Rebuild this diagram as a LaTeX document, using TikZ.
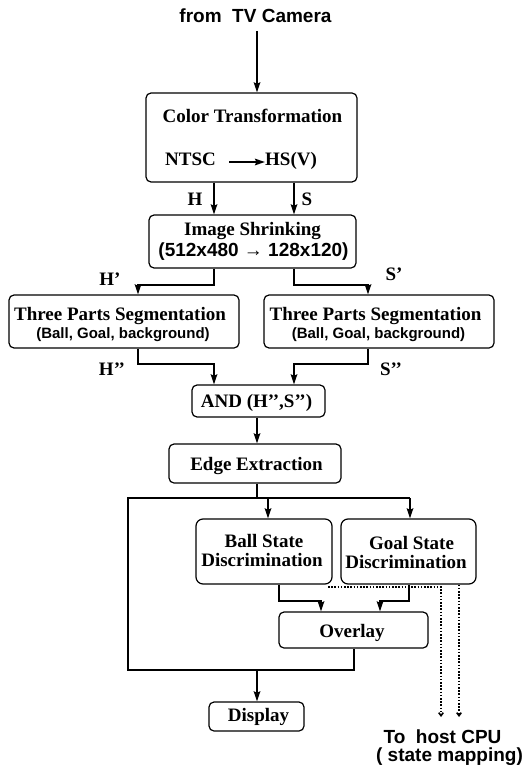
\documentclass[tikz,border=0pt]{standalone}
\usepackage{fontspec}
\setmainfont{Liberation Serif}
\newfontfamily\hsans{Liberation Sans}
\usetikzlibrary{arrows.meta}
\begin{document}
\begin{tikzpicture}[x=1pt,y=-1pt,
  box/.style={draw, line width=1.2pt, rounded corners=5pt, inner sep=0pt},
  lbl/.style={font=\fontsize{19}{22}\selectfont\bfseries, anchor=base, inner sep=0pt},
  slbl/.style={font=\fontsize{19}{22}\selectfont\hsans\bfseries, anchor=base, inner sep=0pt},
  sslbl/.style={font=\fontsize{15}{18}\selectfont\hsans\bfseries, anchor=base, inner sep=0pt},
  conn/.style={line width=2pt, -{Stealth[length=10pt,width=6.5pt,inset=1.5pt]}},
  plain/.style={line width=2pt},
  dotconn/.style={line width=1.6pt, dash pattern=on 1.6pt off 1.6pt, -{Straight Barb[length=3pt,width=4.5pt]}}]
\useasboundingbox (0,0) rectangle (526,767);

% boxes
\node[box, minimum width=211pt, minimum height=89pt] (ct) at (251.5,137.5) {};
\node[box, minimum width=207pt, minimum height=53pt] (is) at (252.5,241.5) {};
\node[box, minimum width=230pt, minimum height=53pt] (segL) at (124,321.5) {};
\node[box, minimum width=230pt, minimum height=53pt] (segR) at (379,321.5) {};
\node[box, minimum width=133pt, minimum height=32pt] (and) at (258.5,401) {};
\node[box, minimum width=172pt, minimum height=39pt] (edge) at (255,463.5) {};
\node[box, rounded corners=7pt, minimum width=136pt, minimum height=65pt] (ball) at (264,551.5) {};
\node[box, rounded corners=7pt, minimum width=135pt, minimum height=65pt] (goal) at (408.5,551.5) {};
\node[box, minimum width=149pt, minimum height=36pt] (overlay) at (353.5,630) {};
\node[box, minimum width=95pt, minimum height=29pt] (display) at (256.5,716.5) {};

% texts
\node[slbl] (title) at (255.5,23) {from\ \ TV Camera};
\node[lbl] (ctT) at (252.5,123) {Color Transformation};
\node[lbl, anchor=base west] (ntsc) at (165,166) {NTSC};
\node[lbl, anchor=base west] (hs) at (265,166) {HS(V)};
\node[lbl] (lH) at (195,206) {H};
\node[lbl] (lS) at (307,206) {S};
\node[lbl] (isT) at (252.5,235) {Image Shrinking};
\node[slbl] (isS) at (253.5,256) {(512x480 → 128x120)};
\node[lbl] (lHp) at (110,285) {H’};
\node[lbl] (lSp) at (394,280) {S’};
\node[lbl] (segLT) at (120,320) {Three Parts Segmentation};
\node[sslbl] (segLS) at (123,338) {(Ball, Goal, background)};
\node[lbl] (segRT) at (375.5,320) {Three Parts Segmentation};
\node[sslbl] (segRS) at (378.5,338) {(Ball, Goal, background)};
\node[lbl] (lHpp) at (112,375) {H’’};
\node[lbl] (lSpp) at (391,375) {S’’};
\node[lbl] (andT) at (256.5,407) {AND (H’’,S’’)};
\node[lbl] (edgeT) at (256.5,470) {Edge Extraction};
\node[lbl] (ballT1) at (264,547) {Ball State};
\node[lbl] (ballT2) at (262,566) {Discrimination};
\node[lbl] (goalT1) at (411.5,549) {Goal State};
\node[lbl] (goalT2) at (406,568) {Discrimination};
\node[lbl] (ovT) at (352,637) {Overlay};
\node[lbl] (dispT) at (258.5,721) {Display};
\node[slbl] (host1) at (442.5,743) {To\ \ host CPU};
\node[slbl] (host2) at (449.5,761) {( state mapping)};

% helper coordinates
\coordinate (camin) at (257,31);
\coordinate (arS) at (229,162);
\coordinate (xH) at (214,0);
\coordinate (xS) at (294,0);
\coordinate (xL) at (138,0);
\coordinate (xR) at (368,0);
\coordinate (xM) at (257,0);
\coordinate (xB) at (268,0);
\coordinate (xOv) at (354,0);
\coordinate (xBo) at (279,0);
\coordinate (xOl) at (321,0);
\coordinate (xGo) at (409,0);
\coordinate (xOr) at (380,0);
\coordinate (split) at (257,498);
\coordinate (leftTop) at (128,498);
\coordinate (goalTop) at (410,498);
\coordinate (leftBot) at (128,670);
\coordinate (merge) at (257,670);
\coordinate (d1s) at (328,587);
\coordinate (d1c) at (441,587);
\coordinate (d1e) at (441,717);
\coordinate (d2) at (459,0);
\coordinate (d2e) at (459,717);

% connectors
\draw[conn] (camin) -- (camin |- ct.north);
\draw[conn] (arS) -- (arS -| hs.west);
\draw[conn] (ct.south -| xH) -- (is.north -| xH);
\draw[conn] (ct.south -| xS) -- (is.north -| xS);
\draw[conn] (is.south -| xH) -- ++(0,16) -| (segL.north -| xL);
\draw[conn] (is.south -| xS) -- ++(0,16) -| (segR.north -| xR);
\draw[conn] (segL.south -| xL) -- ++(0,15) -| (and.north -| xH);
\draw[conn] (segR.south -| xR) -- ++(0,15) -| (and.north -| xS);
\draw[conn] (and.south -| xM) -- (edge.north -| xM);
\draw[plain] (edge.south -| xM) -- (split);
\draw[plain] (goalTop) -- (leftTop) -- (leftBot) -- (leftBot -| xOv) -- (overlay.south -| xOv);
\draw[conn] (split -| xB) -- (ball.north -| xB);
\draw[conn] (goalTop) -- (goal.north -| goalTop);
\draw[conn] (merge) -- (display.north -| merge);
\draw[conn] (ball.south -| xBo) -- ++(0,16) -| (overlay.north -| xOl);
\draw[conn] (goal.south -| xGo) -- ++(0,16) -| (overlay.north -| xOr);
\draw[dotconn] (d1s) -- (d1c) -- (d1e);
\draw[dotconn] (goal.south -| d2) -- (d2e);
\end{tikzpicture}
\end{document}
